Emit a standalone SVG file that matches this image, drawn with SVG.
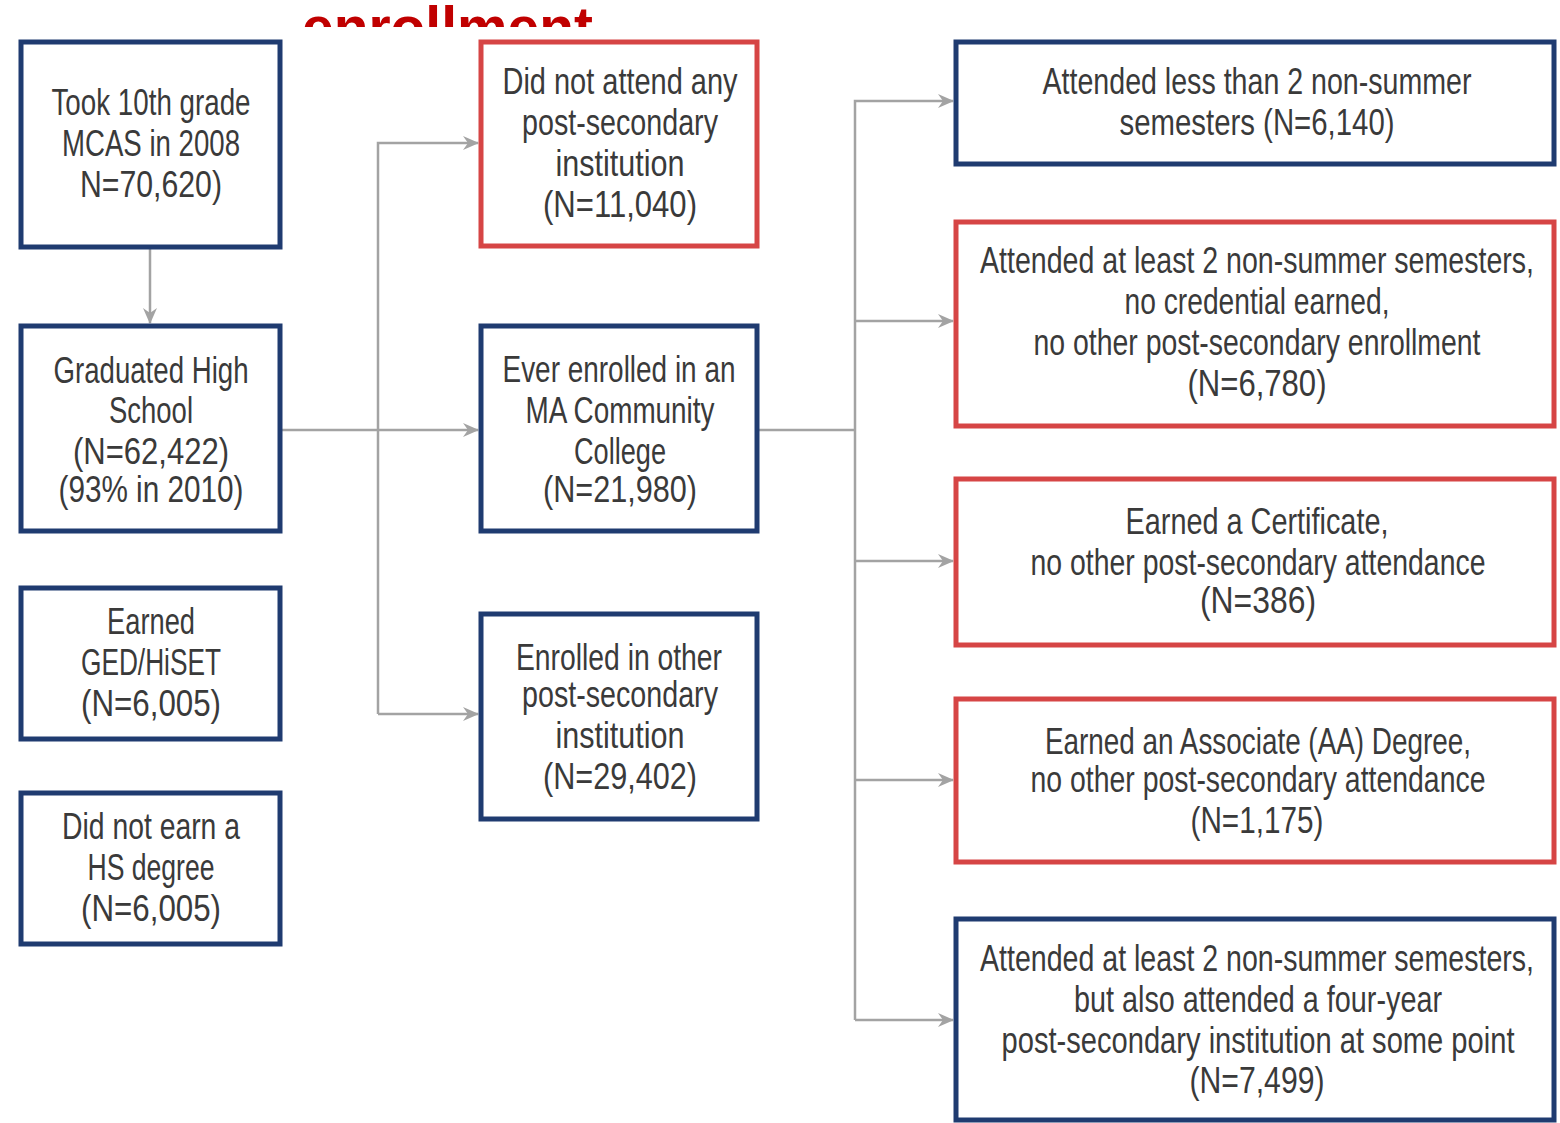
<svg xmlns="http://www.w3.org/2000/svg" width="1560" height="1123" viewBox="0 0 1560 1123">
<style>
.box{fill:#ffffff;stroke-width:5}
.navy{stroke:#1f3b70}
.red{stroke:#d64545}
.t{font-family:"Liberation Sans Narrow","Liberation Sans",Arial,sans-serif;font-size:36px;fill:#3a3a3a;text-anchor:middle}
.conn{fill:none;stroke:#a3a3a3;stroke-width:2.5}
.title{font-family:"Liberation Sans",Arial,sans-serif;font-weight:bold;font-size:58px;fill:#c00000}
</style>
<defs>
<marker id="arr" viewBox="0 0 16 16" refX="15" refY="8" markerWidth="16" markerHeight="16" markerUnits="userSpaceOnUse" orient="auto">
<path d="M0,1 L16,8 L0,15 L5,8 Z" fill="#a3a3a3"/>
</marker>
<clipPath id="topclip"><rect x="0" y="0" width="1560" height="27"/></clipPath>
</defs>
<rect width="1560" height="1123" fill="#ffffff"/>
<g id="title" clip-path="url(#topclip)">
<text class="title" x="302" y="47" textLength="291" lengthAdjust="spacingAndGlyphs">enrollment</text>
</g>
<g id="connectors">
<line class="conn" x1="150" y1="247" x2="150" y2="323" marker-end="url(#arr)"/>
<line class="conn" x1="281" y1="430" x2="478" y2="430" marker-end="url(#arr)"/>
<polyline class="conn" points="378,714 378,143 478,143" marker-end="url(#arr)"/>
<line class="conn" x1="378" y1="714" x2="478" y2="714" marker-end="url(#arr)"/>
<line class="conn" x1="758" y1="430" x2="855" y2="430"/>
<polyline class="conn" points="855,1020 855,101 953,101" marker-end="url(#arr)"/>
<line class="conn" x1="855" y1="321" x2="953" y2="321" marker-end="url(#arr)"/>
<line class="conn" x1="855" y1="561" x2="953" y2="561" marker-end="url(#arr)"/>
<line class="conn" x1="855" y1="780" x2="953" y2="780" marker-end="url(#arr)"/>
<line class="conn" x1="855" y1="1020" x2="953" y2="1020" marker-end="url(#arr)"/>
</g>
<g id="took10th">
<rect class="box navy" x="21" y="42" width="259" height="205"/>
<text class="t" x="151" y="115" textLength="199" lengthAdjust="spacingAndGlyphs">Took 10th grade</text>
<text class="t" x="151" y="156" textLength="178" lengthAdjust="spacingAndGlyphs">MCAS in 2008</text>
<text class="t" x="151" y="197" textLength="142" lengthAdjust="spacingAndGlyphs">N=70,620)</text>
</g>
<g id="graduated">
<rect class="box navy" x="21" y="326" width="259" height="205"/>
<text class="t" x="151" y="383" textLength="195" lengthAdjust="spacingAndGlyphs">Graduated High</text>
<text class="t" x="151" y="423" textLength="84" lengthAdjust="spacingAndGlyphs">School</text>
<text class="t" x="151" y="464" textLength="156" lengthAdjust="spacingAndGlyphs">(N=62,422)</text>
<text class="t" x="151" y="502" textLength="185" lengthAdjust="spacingAndGlyphs">(93% in 2010)</text>
</g>
<g id="ged">
<rect class="box navy" x="21" y="588" width="259" height="151"/>
<text class="t" x="151" y="634" textLength="88" lengthAdjust="spacingAndGlyphs">Earned</text>
<text class="t" x="151" y="675" textLength="140" lengthAdjust="spacingAndGlyphs">GED/HiSET</text>
<text class="t" x="151" y="716" textLength="140" lengthAdjust="spacingAndGlyphs">(N=6,005)</text>
</g>
<g id="nohs">
<rect class="box navy" x="21" y="793" width="259" height="151"/>
<text class="t" x="151" y="839" textLength="178" lengthAdjust="spacingAndGlyphs">Did not earn a</text>
<text class="t" x="151" y="880" textLength="127" lengthAdjust="spacingAndGlyphs">HS degree</text>
<text class="t" x="151" y="921" textLength="140" lengthAdjust="spacingAndGlyphs">(N=6,005)</text>
</g>
<g id="noattend">
<rect class="box red" x="481" y="42" width="276" height="204"/>
<text class="t" x="620" y="94" textLength="235" lengthAdjust="spacingAndGlyphs">Did not attend any</text>
<text class="t" x="620" y="135" textLength="196" lengthAdjust="spacingAndGlyphs">post-secondary</text>
<text class="t" x="620" y="176" textLength="129" lengthAdjust="spacingAndGlyphs">institution</text>
<text class="t" x="620" y="217" textLength="154" lengthAdjust="spacingAndGlyphs">(N=11,040)</text>
</g>
<g id="macc">
<rect class="box navy" x="481" y="326" width="276" height="205"/>
<text class="t" x="619" y="382" textLength="233" lengthAdjust="spacingAndGlyphs">Ever enrolled in an</text>
<text class="t" x="620" y="423" textLength="189" lengthAdjust="spacingAndGlyphs">MA Community</text>
<text class="t" x="620" y="464" textLength="92" lengthAdjust="spacingAndGlyphs">College</text>
<text class="t" x="620" y="502" textLength="154" lengthAdjust="spacingAndGlyphs">(N=21,980)</text>
</g>
<g id="otherps">
<rect class="box navy" x="481" y="614" width="276" height="205"/>
<text class="t" x="619" y="670" textLength="206" lengthAdjust="spacingAndGlyphs">Enrolled in other</text>
<text class="t" x="620" y="707" textLength="196" lengthAdjust="spacingAndGlyphs">post-secondary</text>
<text class="t" x="620" y="748" textLength="129" lengthAdjust="spacingAndGlyphs">institution</text>
<text class="t" x="620" y="789" textLength="154" lengthAdjust="spacingAndGlyphs">(N=29,402)</text>
</g>
<g id="lessthan2">
<rect class="box navy" x="956" y="42" width="598" height="122"/>
<text class="t" x="1257" y="94" textLength="429" lengthAdjust="spacingAndGlyphs">Attended less than 2 non-summer</text>
<text class="t" x="1257" y="135" textLength="275" lengthAdjust="spacingAndGlyphs">semesters (N=6,140)</text>
</g>
<g id="atleast2nocred">
<rect class="box red" x="956" y="222" width="598" height="204"/>
<text class="t" x="1257" y="273" textLength="554" lengthAdjust="spacingAndGlyphs">Attended at least 2 non-summer semesters,</text>
<text class="t" x="1257" y="314" textLength="265" lengthAdjust="spacingAndGlyphs">no credential earned,</text>
<text class="t" x="1257" y="355" textLength="447" lengthAdjust="spacingAndGlyphs">no other post-secondary enrollment</text>
<text class="t" x="1257" y="396" textLength="139" lengthAdjust="spacingAndGlyphs">(N=6,780)</text>
</g>
<g id="certificate">
<rect class="box red" x="956" y="479" width="598" height="166"/>
<text class="t" x="1257" y="534" textLength="263" lengthAdjust="spacingAndGlyphs">Earned a Certificate,</text>
<text class="t" x="1258" y="575" textLength="455" lengthAdjust="spacingAndGlyphs">no other post-secondary attendance</text>
<text class="t" x="1258" y="613" textLength="116" lengthAdjust="spacingAndGlyphs">(N=386)</text>
</g>
<g id="associate">
<rect class="box red" x="956" y="699" width="598" height="163"/>
<text class="t" x="1258" y="754" textLength="426" lengthAdjust="spacingAndGlyphs">Earned an Associate (AA) Degree,</text>
<text class="t" x="1258" y="792" textLength="455" lengthAdjust="spacingAndGlyphs">no other post-secondary attendance</text>
<text class="t" x="1257" y="833" textLength="133" lengthAdjust="spacingAndGlyphs">(N=1,175)</text>
</g>
<g id="fouryear">
<rect class="box navy" x="956" y="919" width="598" height="201"/>
<text class="t" x="1257" y="971" textLength="554" lengthAdjust="spacingAndGlyphs">Attended at least 2 non-summer semesters,</text>
<text class="t" x="1258" y="1012" textLength="368" lengthAdjust="spacingAndGlyphs">but also attended a four-year</text>
<text class="t" x="1258" y="1053" textLength="513" lengthAdjust="spacingAndGlyphs">post-secondary institution at some point</text>
<text class="t" x="1257" y="1093" textLength="135" lengthAdjust="spacingAndGlyphs">(N=7,499)</text>
</g>
</svg>
